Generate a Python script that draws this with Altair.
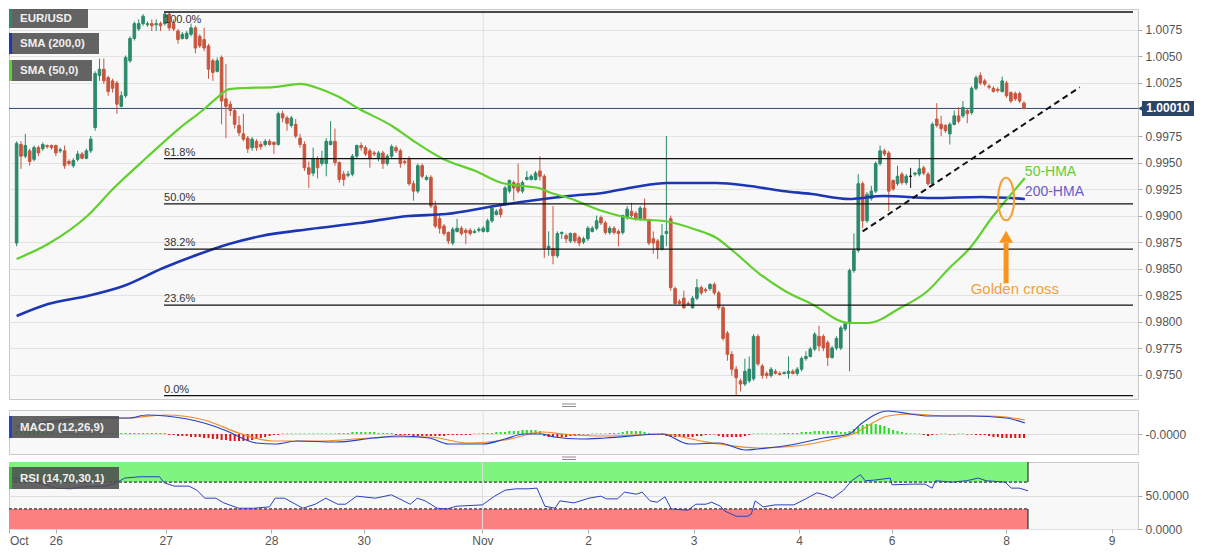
import altair as alt
import pandas as pd

# ---------------- hourly EUR/USD candles (price x 10000) ----------------
OPEN = [9874, 9967, 9956, 9961, 9953, 9964, 9963, 9966, 9966, 9966,
        9961, 9961, 9951, 9947, 9953, 9958, 9954, 9961, 9983, 10032,
        10038, 10030, 10027, 10025, 10003, 10013, 10046, 10067, 10076, 10081,
        10080, 10081, 10080, 10081, 10081, 10090, 10081, 10074, 10067, 10067,
        10071, 10077, 10069, 10066, 10060, 10046, 10036, 10049, 10010, 10005,
        9999, 9985, 9977, 9973, 9964, 9970, 9967, 9967, 9970, 9969,
        9967, 9996, 9992, 9985, 9986, 9973, 9967, 9945, 9940, 9953,
        9949, 9949, 9967, 9970, 9950, 9939, 9938, 9939, 9956, 9966,
        9964, 9961, 9959, 9954, 9959, 9949, 9956, 9964, 9961, 9951,
        9953, 9930, 9923, 9947, 9934, 9936, 9909, 9897, 9890, 9884,
        9874, 9885, 9888, 9886, 9886, 9884, 9886, 9885, 9885, 9895,
        9901, 9906, 9911, 9923, 9931, 9930, 9923, 9934, 9934, 9934,
        9942, 9937, 9869, 9869, 9862, 9883, 9881, 9876, 9883, 9879,
        9875, 9878, 9885, 9888, 9898, 9893, 9884, 9888, 9885, 9884,
        9898, 9904, 9902, 9897, 9907, 9895, 9878, 9876, 9868, 9883,
        9897, 9831, 9819, 9822, 9817, 9813, 9822, 9832, 9830, 9831,
        9835, 9827, 9813, 9789, 9769, 9755, 9744, 9741, 9744, 9746,
        9786, 9758, 9751, 9749, 9753, 9751, 9751, 9751, 9753, 9751,
        9755, 9765, 9767, 9774, 9786, 9786, 9780, 9766, 9775, 9775,
        9793, 9798, 9848, 9867, 9930, 9895, 9916, 9923, 9949, 9961,
        9959, 9933, 9930, 9939, 9931, 9937, 9939, 9939, 9945, 9939,
        9930, 9991, 9986, 9985, 9977, 9986, 9994, 9994, 9999, 9997,
        10020, 10032, 10027, 10022, 10020, 10019, 10017, 10025, 10016, 10015,
        10015, 10006]
HIGH = [9970, 9970, 9977, 9963, 9966, 9966, 9969, 9967, 9967, 9967,
        9964, 9966, 9953, 9954, 9961, 9960, 9963, 9975, 10036, 10048,
        10048, 10032, 10029, 10027, 10017, 10051, 10069, 10083, 10085, 10090,
        10083, 10085, 10085, 10083, 10092, 10092, 10085, 10076, 10073, 10074,
        10081, 10079, 10071, 10077, 10062, 10048, 10049, 10051, 10043, 10008,
        10001, 9994, 9996, 9975, 9974, 9972, 9970, 9972, 9972, 9970,
        9998, 9999, 9994, 9994, 9991, 9977, 9970, 9951, 9964, 9956,
        9961, 9973, 9989, 9982, 9951, 9942, 9942, 9958, 9967, 9969,
        9966, 9963, 9961, 9961, 9961, 9958, 9967, 9966, 9963, 9953,
        9956, 9933, 9949, 9949, 9938, 9938, 9914, 9900, 9892, 9885,
        9889, 9897, 9890, 9888, 9888, 9887, 9889, 9890, 9897, 9909,
        9906, 9909, 9928, 9934, 9933, 9949, 9933, 9942, 9939, 9942,
        9956, 9939, 9885, 9909, 9885, 9885, 9883, 9884, 9884, 9881,
        9880, 9890, 9890, 9900, 9900, 9895, 9890, 9890, 9887, 9901,
        9909, 9912, 9904, 9909, 9916, 9897, 9885, 9878, 9892, 9975,
        9900, 9833, 9821, 9829, 9819, 9824, 9840, 9834, 9832, 9836,
        9837, 9829, 9815, 9791, 9772, 9758, 9746, 9765, 9767, 9788,
        9788, 9760, 9753, 9757, 9755, 9753, 9753, 9767, 9755, 9757,
        9767, 9772, 9776, 9790, 9796, 9788, 9782, 9777, 9786, 9796,
        9800, 9850, 9883, 9939, 9932, 9922, 9928, 9951, 9966, 9963,
        9961, 9934, 9947, 9941, 9939, 9945, 9941, 9954, 9947, 9941,
        9988, 10006, 9994, 9986, 9988, 9999, 10002, 10008, 10001, 10022,
        10032, 10035, 10029, 10024, 10022, 10021, 10031, 10027, 10017, 10017,
        10017, 10008]
LOW = [9871, 9944, 9954, 9947, 9951, 9956, 9961, 9963, 9962, 9956,
       9959, 9944, 9947, 9945, 9951, 9953, 9953, 9959, 9980, 10027,
       10024, 10013, 10016, 9996, 10002, 10011, 10044, 10065, 10074, 10079,
       10078, 10074, 10074, 10074, 10079, 10074, 10074, 10062, 10066, 10066,
       10069, 10053, 10058, 10055, 10029, 10027, 10035, 9986, 9973, 9994,
       9982, 9975, 9970, 9959, 9961, 9961, 9962, 9965, 9966, 9958,
       9966, 9988, 9980, 9983, 9973, 9964, 9942, 9926, 9937, 9935,
       9947, 9937, 9966, 9947, 9931, 9928, 9936, 9937, 9954, 9961,
       9956, 9945, 9956, 9951, 9944, 9947, 9954, 9959, 9945, 9948,
       9928, 9914, 9921, 9935, 9933, 9907, 9888, 9883, 9881, 9873,
       9872, 9884, 9881, 9873, 9881, 9883, 9884, 9884, 9884, 9893,
       9900, 9898, 9909, 9921, 9914, 9921, 9921, 9933, 9933, 9933,
       9933, 9860, 9862, 9854, 9860, 9878, 9874, 9874, 9874, 9871,
       9873, 9876, 9884, 9886, 9891, 9882, 9882, 9882, 9871, 9882,
       9896, 9898, 9895, 9895, 9895, 9872, 9864, 9859, 9867, 9871,
       9829, 9816, 9816, 9812, 9815, 9812, 9820, 9825, 9827, 9829,
       9825, 9811, 9782, 9763, 9749, 9730, 9734, 9739, 9742, 9744,
       9758, 9746, 9746, 9747, 9750, 9749, 9750, 9746, 9750, 9749,
       9753, 9763, 9766, 9772, 9772, 9772, 9758, 9765, 9773, 9773,
       9791, 9753, 9846, 9865, 9888, 9893, 9914, 9921, 9947, 9956,
       9904, 9923, 9928, 9929, 9929, 9926, 9937, 9937, 9938, 9928,
       9928, 9983, 9975, 9978, 9967, 9985, 9987, 9992, 9987, 9995,
       10018, 10023, 10022, 10019, 10016, 10016, 10016, 10011, 10006, 10008,
       10006, 10000]
CLOSE = [9968, 9956, 9966, 9951, 9964, 9959, 9967, 9965, 9964, 9959,
         9962, 9947, 9949, 9952, 9958, 9954, 9961, 9972, 10034, 10038,
         10027, 10017, 10020, 10005, 10013, 10049, 10067, 10081, 10081, 10088,
         10081, 10079, 10081, 10079, 10090, 10077, 10076, 10066, 10071, 10072,
         10077, 10058, 10060, 10058, 10038, 10035, 10046, 10008, 10003, 9999,
         9986, 9978, 9972, 9963, 9972, 9964, 9965, 9970, 9967, 9967,
         9996, 9992, 9987, 9992, 9975, 9967, 9945, 9939, 9954, 9945,
         9954, 9970, 9970, 9950, 9934, 9934, 9939, 9956, 9966, 9964,
         9958, 9954, 9958, 9959, 9949, 9956, 9965, 9961, 9949, 9950,
         9930, 9923, 9947, 9937, 9936, 9909, 9890, 9888, 9883, 9876,
         9887, 9888, 9883, 9884, 9883, 9885, 9887, 9888, 9895, 9907,
         9904, 9901, 9926, 9933, 9926, 9923, 9931, 9936, 9937, 9940,
         9937, 9869, 9871, 9862, 9883, 9884, 9878, 9883, 9876, 9874,
         9878, 9888, 9888, 9895, 9893, 9884, 9888, 9884, 9883, 9900,
         9906, 9900, 9897, 9907, 9897, 9874, 9874, 9868, 9881, 9885,
         9832, 9817, 9817, 9813, 9816, 9822, 9832, 9827, 9829, 9835,
         9827, 9813, 9784, 9769, 9755, 9747, 9741, 9753, 9755, 9786,
         9760, 9749, 9749, 9755, 9751, 9750, 9752, 9753, 9751, 9755,
         9765, 9767, 9774, 9788, 9777, 9775, 9766, 9775, 9784, 9794,
         9798, 9848, 9867, 9930, 9895, 9920, 9923, 9949, 9961, 9958,
         9923, 9925, 9937, 9931, 9937, 9937, 9940, 9944, 9940, 9930,
         9986, 9985, 9982, 9980, 9986, 9994, 9989, 10002, 9996, 10020,
         10030, 10025, 10024, 10021, 10017, 10018, 10027, 10013, 10008, 10010,
         10008, 10001]

# moving averages (bar index, price)
SMA50_I = [0, 7.2, 16.2, 22.3, 29.7, 37.4, 43.3, 46.4, 48.7, 52.3, 59.0, 65.1, 69.0, 73.5,
           78.6, 86.1, 91.0, 97.8, 105.2, 111.3, 115.8, 119.7, 122.6, 126.6, 134.3, 141.8,
           148.5, 155.3, 160.5, 164.3, 170.4, 176.2, 182.3, 190.9, 195.2, 202.6, 208.9,
           213.9, 218.4, 223.6, 228.1, 231.2]
SMA50_P = [0.98590, 0.98731, 0.98995, 0.99259, 0.99542, 0.99825, 1.00014, 1.00127, 1.00193,
           1.00203, 1.00212, 1.00241, 1.00203, 1.00127, 1.00005, 0.99844, 0.99703, 0.99533,
           0.99420, 0.99307, 0.99278, 0.99259, 0.99212, 0.99165, 0.99042, 0.98967, 0.98948,
           0.98873, 0.98788, 0.98665, 0.98448, 0.98288, 0.98165, 0.97986, 0.97986, 0.98127,
           0.98288, 0.98505, 0.98684, 0.98976, 0.99203, 0.99354]
SMA200_I = [0, 7.2, 16.2, 24.5, 33.6, 41.9, 48.7, 56.1, 67.4, 78.6, 89.9, 98.5, 109.7, 117.4,
            122.6, 126.6, 134.3, 141.8, 149.2, 153.0, 160.5, 168.1, 175.6, 182.3, 190.9,
            198.8, 210.0, 221.3, 231.2]
SMA200_P = [0.98052, 0.98165, 0.98241, 0.98335, 0.98505, 0.98637, 0.98731, 0.98807, 0.98873,
            0.98929, 0.98995, 0.99014, 0.99090, 0.99137, 0.99165, 0.99184, 0.99212, 0.99269,
            0.99307, 0.99307, 0.99307, 0.99278, 0.99231, 0.99203, 0.99156, 0.99184, 0.99165,
            0.99175, 0.99156]

# MACD (x 1e-4)
MACD_I = [0, 8.8, 17.8, 25.7, 29.9, 34.2, 43.0, 48.2, 51.6, 55.0, 59.3, 64.4, 73.2, 81.8, 87.9,
          94.6, 99.1, 106.8, 112.0, 116.3, 120.6, 123.3, 129.4, 135.0, 148.1, 154.2, 161.1,
          167.2, 169.9, 178.7, 184.9, 190.9, 193.6, 199.8, 204.9, 209.2, 218.9, 226.9, 231.2]
MACD_V = [8, 13, 17, 16, 19, 18, 11, 3, -4, -9, -10, -7, -8, -4, -2, -4, -10, -10, -5, 0, 0, -3,
          -5, -4, 0, -10, -9, -16, -15, -10, -4, 0, 10, 23, 20, 18, 18, 16, 11]
SIG_I = [0, 8.8, 17.8, 25.7, 34.2, 43.0, 51.6, 58.6, 68.9, 86.1, 94.6, 103.4, 112.0, 120.6, 125.1,
         135.0, 148.1, 156.9, 161.1, 169.9, 178.7, 187.5, 191.8, 199.8, 204.9, 213.6, 222.4,
         226.9, 231.2]
SIG_V = [6, 11, 15, 16, 19, 14, 0, -7, -7, -3, -3, -9, -6, 2, 0, -2, 0, -7, -10, -14, -12, -5, 0,
         18, 20, 18, 18, 17, 14]
HIST = [3, 3, 3, 3, 3, 3, 2, 2, 2, 1, 1, 1, 1, 1, -1, -1, -1, -1,
        1, 1, 1, 1, 1, 1, 1, 1, 1, 1, 1, 1, 1, 1, 1, 1, 1,
        -1, -1, -2, -2, -2, -3, -3, -3, -4, -4, -5, -5, -6, -6, -7, -7, -7, -7, -7, -6, -5, -4,
        -3, -2, -1, -1,
        0.5, 0.5, 0.5, 0.5, 0.5, 0.5, 0.5, 0.5, 0.5, 0.5, 0.5, 0.5, 0.5,
        1, 1, 1, 2, 2, 2, 2, 2, 2, 1, 1, 1, 1,
        -1, -1, -1, -1, -2, -2, -2, -2, -2, -2, -2, -2, -1, -1, -1, -1, -1, -1, 0.5, 0.5,
        1, 1, 1, 2, 2, 2, 3, 3, 3, 4, 4, 4, 4, 3,
        -2, -3, -3, -3, -3, -3, -2, -2, -1,
        -0.5, -0.5, 0.5, 0.5, 0.5, 0.5, 1, 1, 1,
        2, 3, 3, 3, 3, 2, 1,
        0.5, -0.5, -1,
        -2, -3, -3, -3, -3, -3, -3, -2, -2, -1,
        -0.5, -0.5,
        -2, -3, -3, -3, -3, -3, -2, -1,
        0.5, 0.5, 0.5, 0.5, 0.5, 0.5, 0.5, 1, 1, 1,
        1, 2, 2, 2, 3, 3, 3, 3, 3, 3, 2, 2,
        3, 5, 7, 9, 10, 10, 10, 9, 8, 6, 4, 3, 2,
        1, 0.5, 0.5, 0.5,
        -1, -2, -1,
        -0.5, 0.5, 0.5, -0.5, -0.5, 0.5, 0.5, -0.5, -0.5, -1, -1, -1,
        -2, -3, -3, -4, -4, -4, -4, -4, -4]

# RSI
RSI_I = [0, 3.1, 10.1, 13.3, 16.2, 21.2, 23.2, 25.7, 29.1, 33.6,
         34.7, 36.9, 40.3, 42.1, 43.9, 46.4, 48.2, 51.6, 55.0, 58.6,
         59.9, 62.0, 66.2, 69.0, 71.4, 74.1, 75.9, 78.4, 82.7, 86.3,
         90.6, 92.2, 94.0, 96.7, 99.1, 101.0, 107.0, 109.5, 112.2, 114.7,
         117.4, 119.4, 121.2, 123.5, 124.6, 127.8, 131.2, 133.9, 135.2, 137.7,
         139.3, 142.0, 143.3, 145.1, 146.7, 148.5, 149.9, 153.7, 155.5, 157.8,
         159.1, 161.1, 162.0, 164.7, 167.2, 168.1, 169.0, 170.8, 173.5, 177.8,
         180.5, 183.0, 184.8, 186.6, 189.1, 190.9, 192.9, 194.0, 196.1, 199.7,
         200.1, 204.9, 207.6, 209.2, 210.0, 213.7, 217.0, 219.7, 221.5, 225.8,
         227.2, 229.0, 231.0]
RSI_V = [76, 75, 61, 60, 63, 64, 67, 76, 78, 78,
         69, 64, 64, 58, 46, 46, 39, 31, 31, 33,
         46, 46, 31, 37, 46, 37, 37, 49, 46, 51,
         37, 46, 42, 31, 30, 34, 36, 48, 58, 60,
         60, 61, 34, 31, 42, 39, 46, 49, 45, 45,
         55, 52, 55, 42, 40, 48, 30, 28, 37, 37,
         40, 34, 27, 19, 19, 22, 42, 33, 36, 36,
         45, 54, 51, 46, 58, 72, 81, 72, 73, 76,
         66, 67, 67, 61, 72, 70, 72, 76, 72, 70,
         61, 61, 57]

FIB_LEVELS = [1.0092, 0.99537, 0.9911, 0.98683, 0.98154, 0.9730]
FIB_TEXT = ["100.0%", "61.8%", "50.0%", "38.2%", "23.6%", "0.0%"]
FIB_START = 33.8
LAST_PRICE = 1.0001
TREND_I = [194.0, 243.8]
TREND_P = [0.9885, 1.0021]
PRICE_TICKS = [0.9750, 0.9775, 0.9800, 0.9825, 0.9850, 0.9875, 0.9900, 0.9925, 0.9950,
               0.9975, 1.0025, 1.0050, 1.0075]
XTICK_POS = [-0.5, 10, 35, 59, 80, 107, 131, 155, 179, 200, 226, 250]
XTICK_TEXT = ["Oct", "26", "27", "28", "30", "Nov", "2", "3", "4", "6", "8", "9"]
NOV_I = 107

# ---------------- styling ----------------
FONT = "Liberation Sans"
GREEN_C = "#2b8a6c"
RED_C = "#c8563f"
ORANGE = "#f5a033"
W = 1129
MAIN_H = 390
MACD_H = 44
RSI_H = 67
XDOM = [-0.6, 256.0]
YDOM = [0.972689, 1.009481]

N = len(OPEN)
cd = pd.DataFrame({"i": list(range(N)),
                   "o": [v / 10000 for v in OPEN], "c": [v / 10000 for v in CLOSE],
                   "h": [max(a, b, c) / 10000 for a, b, c in zip(HIGH, OPEN, CLOSE)],
                   "l": [min(a, b, c) / 10000 for a, b, c in zip(LOW, OPEN, CLOSE)]})
cd["dir"] = ["up" if c > o else ("down" if c < o else "flat") for o, c in zip(OPEN, CLOSE)]

xs = alt.Scale(domain=XDOM, nice=False, zero=False)
ys = alt.Scale(domain=YDOM, nice=False, zero=False)
main_axis = alt.Axis(orient="right", values=PRICE_TICKS, format=".4f", grid=True,
                     gridColor="#e3e3e3", domain=False, tickColor="#aaaaaa", tickSize=4,
                     labelColor="#555555", labelFont=FONT, labelFontSize=12, labelPadding=3,
                     title=None)


def XM(f):
    return alt.X(f, type="quantitative", scale=xs, axis=None)


def YM(f):
    return alt.Y(f, type="quantitative", scale=ys, axis=main_axis)


def label_box(x0, x1, y0, y1, stripe, text):
    d = pd.DataFrame({"t": [text]})
    b = alt.Chart(d)
    return [
        b.mark_rect(color="#4d4d4d", opacity=0.88).encode(
            x=alt.value(x0), x2=alt.value(x1), y=alt.value(y0), y2=alt.value(y1)),
        b.mark_rect(color=stripe).encode(
            x=alt.value(x0), x2=alt.value(x0 + 3), y=alt.value(y0), y2=alt.value(y1)),
        b.mark_text(align="left", baseline="middle", font=FONT, fontSize=11.5,
                    fontWeight="bold", color="#f0f0f0").encode(
            x=alt.value(x0 + 11), y=alt.value((y0 + y1) / 2 + 0.5), text="t:N"),
    ]


dircolor = alt.Color("dir:N", scale=alt.Scale(domain=["up", "down", "flat"],
                                              range=[GREEN_C, RED_C, "#1a1a1a"]), legend=None)

nov = pd.DataFrame({"i": [NOV_I]})
price_df = pd.DataFrame({"p": [LAST_PRICE], "hi": [LAST_PRICE + 0.00071],
                         "lo": [LAST_PRICE - 0.00071], "t": ["1.00010"]})
fib = pd.DataFrame({"p": FIB_LEVELS, "t": FIB_TEXT, "x0": [FIB_START] * len(FIB_LEVELS),
                    "x1": [XDOM[1]] * len(FIB_LEVELS)})
fib_top = fib.iloc[:1]
fib_rest = fib.iloc[1:]
sma50 = pd.DataFrame({"i": SMA50_I, "p": SMA50_P})
sma200 = pd.DataFrame({"i": SMA200_I, "p": SMA200_P})
trend = pd.DataFrame({"i": TREND_I, "p": TREND_P})

ELLIPSE = "M-0.38,0A0.38,1,0,1,1,0.38,0A0.38,1,0,1,1,-0.38,0Z"
ann = pd.DataFrame({"i": [226.9], "p": [0.99155]})
arrow = pd.DataFrame({"i": [226.9], "p0": [0.9836], "p1": [0.9874], "ph": [0.9880]})
gc_df = pd.DataFrame({"i": [228.9], "p": [0.9831], "t": ["Golden cross"]})
h50_df = pd.DataFrame({"i": [231.2], "p": [0.9941], "t": ["50-HMA"]})
h200_df = pd.DataFrame({"i": [231.2], "p": [0.9922], "t": ["200-HMA"]})

main_layers = [
    alt.Chart(nov).mark_rule(color="#dedede", strokeWidth=1).encode(x=XM("i")),
    alt.Chart(price_df).mark_rule(color="#2e4a73", strokeWidth=1).encode(y=YM("p")),
    alt.Chart(cd).mark_rule(strokeWidth=1).encode(x=XM("i"), y=YM("l"), y2="h", color=dircolor),
    alt.Chart(cd).mark_bar(size=2.6, strokeWidth=1).encode(
        x=XM("i"), y=YM("o"), y2="c", color=dircolor, stroke=dircolor),
    alt.Chart(sma200).mark_line(color="#1c36b4", strokeWidth=2.6, interpolate="monotone").encode(
        x=XM("i"), y=YM("p")),
    alt.Chart(sma50).mark_line(color="#5fd02c", strokeWidth=2.2, interpolate="monotone").encode(
        x=XM("i"), y=YM("p")),
    alt.Chart(fib).mark_rule(color="#111111", strokeWidth=1.3).encode(
        x=XM("x0"), x2="x1", y=YM("p")),
    alt.Chart(fib_rest).mark_text(align="left", baseline="bottom", dy=-1, font=FONT, fontSize=11,
                                  color="#333333").encode(x=XM("x0"), y=YM("p"), text="t:N"),
    alt.Chart(fib_top).mark_text(align="left", baseline="top", dy=2, font=FONT, fontSize=11,
                                 color="#333333").encode(x=XM("x0"), y=YM("p"), text="t:N"),
    alt.Chart(trend).mark_line(color="#111111", strokeWidth=2, strokeDash=[6, 4]).encode(
        x=XM("i"), y=YM("p")),
    alt.Chart(ann).mark_point(shape=ELLIPSE, size=1800, filled=False, color=ORANGE,
                              strokeWidth=2, opacity=1).encode(x=XM("i"), y=YM("p")),
    alt.Chart(arrow).mark_rule(color="#f7941d", strokeWidth=5).encode(
        x=XM("i"), y=YM("p0"), y2="p1"),
    alt.Chart(arrow).mark_point(shape="triangle-up", size=190, filled=True, color="#f7941d",
                                opacity=1).encode(x=XM("i"), y=YM("ph")),
    alt.Chart(gc_df).mark_text(align="center", baseline="middle", font=FONT, fontSize=15,
                               color=ORANGE).encode(x=XM("i"), y=YM("p"), text="t:N"),
    alt.Chart(h50_df).mark_text(align="left", baseline="middle", font=FONT, fontSize=14,
                                color="#5fcf30").encode(x=XM("i"), y=YM("p"), text="t:N"),
    alt.Chart(h200_df).mark_text(align="left", baseline="middle", font=FONT, fontSize=14,
                                 color="#6a5cc6").encode(x=XM("i"), y=YM("p"), text="t:N"),
    alt.Chart(price_df).mark_rect(color="#2b4468").encode(
        x=alt.value(W + 4), x2=alt.value(W + 56), y=YM("hi"), y2="lo"),
    alt.Chart(price_df).mark_point(shape="triangle-left", size=45, filled=True, color="#2b4468",
                                   opacity=1).encode(x=alt.value(W + 3), y=YM("p")),
    alt.Chart(price_df).mark_text(font=FONT, fontSize=12, fontWeight="bold", color="white",
                                  baseline="middle").encode(
        x=alt.value(W + 30), y=YM("p"), text="t:N"),
] + label_box(0, 79, 0, 19, GREEN_C, "EUR/USD") \
  + label_box(0, 90, 24, 45, "#1c36b4", "SMA (200,0)") \
  + label_box(0, 83, 51, 72, "#5fd02c", "SMA (50,0)")

main = alt.layer(*main_layers).properties(width=W, height=MAIN_H)

# ---------------- MACD panel ----------------
ms = alt.Scale(domain=[-0.0020, 0.0024], nice=False, zero=False)
macd_axis = alt.Axis(orient="right", values=[0], labelExpr="'-0.0000'", grid=True,
                     gridColor="#dddddd", domain=False, tickColor="#aaaaaa", tickSize=4,
                     labelColor="#555555", labelFont=FONT, labelFontSize=12, labelPadding=3,
                     title=None)


def YMA(f):
    return alt.Y(f, type="quantitative", scale=ms, axis=macd_axis)


hist = (HIST + [0] * N)[:N]
hd = pd.DataFrame({"i": list(range(N)), "v": [h / 10000 for h in hist], "z": [0.0] * N})
hpos = hd[hd["v"] > 0]
hneg = hd[hd["v"] < 0]
macd_df = pd.DataFrame({"i": MACD_I, "v": [v / 10000 for v in MACD_V]})
sig_df = pd.DataFrame({"i": SIG_I, "v": [v / 10000 for v in SIG_V]})
handle = pd.DataFrame({"a": [0]})

macd_layers = [
    alt.Chart(nov).mark_rule(color="#dedede").encode(x=XM("i")),
    alt.Chart(hpos).mark_bar(size=2, color="#22dd22").encode(x=XM("i"), y=YMA("z"), y2="v"),
    alt.Chart(hneg).mark_bar(size=2, color="#e01414").encode(x=XM("i"), y=YMA("z"), y2="v"),
    alt.Chart(sig_df).mark_line(color="#f08a2a", strokeWidth=1.2, interpolate="monotone").encode(
        x=XM("i"), y=YMA("v")),
    alt.Chart(macd_df).mark_line(color="#2442c8", strokeWidth=1.2, interpolate="monotone").encode(
        x=XM("i"), y=YMA("v")),
    alt.Chart(handle).mark_rule(color="#8a8a8a").encode(
        x=alt.value(553), x2=alt.value(567), y=alt.value(-6)),
    alt.Chart(handle).mark_rule(color="#8a8a8a").encode(
        x=alt.value(553), x2=alt.value(567), y=alt.value(-3.5)),
] + label_box(0, 110, 6, 28, "#2442c8", "MACD (12,26,9)")
macd = alt.layer(*macd_layers).properties(width=W, height=MACD_H)

# ---------------- RSI panel ----------------
rs = alt.Scale(domain=[0, 100], nice=False, zero=False)
rsi_axis = alt.Axis(orient="right", values=[0, 50], format=".4f", grid=True,
                    gridColor="#dddddd", domain=False, tickColor="#aaaaaa", tickSize=4,
                    labelColor="#555555", labelFont=FONT, labelFontSize=12, labelPadding=3,
                    title=None)
parts = []
for k in range(len(XTICK_POS) - 1):
    mid = (XTICK_POS[k] + XTICK_POS[k + 1]) / 2
    parts.append(f"datum.value < {mid} ? '{XTICK_TEXT[k]}' : ")
x_expr = "".join(parts) + f"'{XTICK_TEXT[-1]}'"
x_axis = alt.Axis(orient="bottom", values=XTICK_POS, labelExpr=x_expr, grid=False, domain=False,
                  ticks=True, tickSize=4, tickColor="#aaaaaa", labelColor="#555555",
                  labelFont=FONT, labelFontSize=12, labelPadding=2, labelFlush=3, title=None)


def XR(f):
    return alt.X(f, type="quantitative", scale=xs, axis=x_axis)


def YR(f):
    return alt.Y(f, type="quantitative", scale=rs, axis=rsi_axis)


RSI_END = 231.0
bands = pd.DataFrame({"x0": [XDOM[0], XDOM[0]], "x1": [RSI_END, RSI_END],
                      "y0": [70, 0], "y1": [100, 30], "k": ["ob", "os"]})
lvl = pd.DataFrame({"x0": [XDOM[0], XDOM[0]], "x1": [RSI_END, RSI_END], "y": [70, 30]})
edge = pd.DataFrame({"x": [RSI_END, RSI_END], "y0": [70, 0], "y1": [100, 30]})
rsi_df = pd.DataFrame({"i": RSI_I, "v": RSI_V})

rsi_layers = [
    alt.Chart(bands).mark_rect(opacity=1).encode(
        x=XR("x0"), x2="x1", y=YR("y0"), y2="y1",
        fill=alt.Fill("k:N", scale=alt.Scale(domain=["ob", "os"], range=["#7ff47f", "#fb8080"]),
                      legend=None)),
    alt.Chart(nov).mark_rule(color="#dedede").encode(x=XR("i")),
    alt.Chart(lvl).mark_rule(color="#111111", strokeWidth=1, strokeDash=[3, 2]).encode(
        x=XR("x0"), x2="x1", y=YR("y")),
    alt.Chart(edge).mark_rule(color="#111111", strokeWidth=1).encode(
        x=XR("x"), y=YR("y0"), y2="y1"),
    alt.Chart(rsi_df).mark_line(color="#2d40c0", strokeWidth=1).encode(x=XR("i"), y=YR("v")),
    alt.Chart(handle).mark_rule(color="#8a8a8a").encode(
        x=alt.value(553), x2=alt.value(567), y=alt.value(-5)),
    alt.Chart(handle).mark_rule(color="#8a8a8a").encode(
        x=alt.value(553), x2=alt.value(567), y=alt.value(-2.5)),
] + label_box(0, 110, 5, 27, "#33c233", "RSI (14,70,30,1)")
rsi = alt.layer(*rsi_layers).properties(width=W, height=RSI_H)

lower = alt.vconcat(macd, rsi, spacing=8, bounds="flush")
chart = alt.vconcat(main, lower, spacing=11, bounds="flush").properties(
    padding=0, background="white"
).configure_view(fill="#f8f8f8", stroke="#c9c9c9").resolve_scale(color="independent")

chart.save("out.html", embed_options={"renderer": "svg", "actions": False})
